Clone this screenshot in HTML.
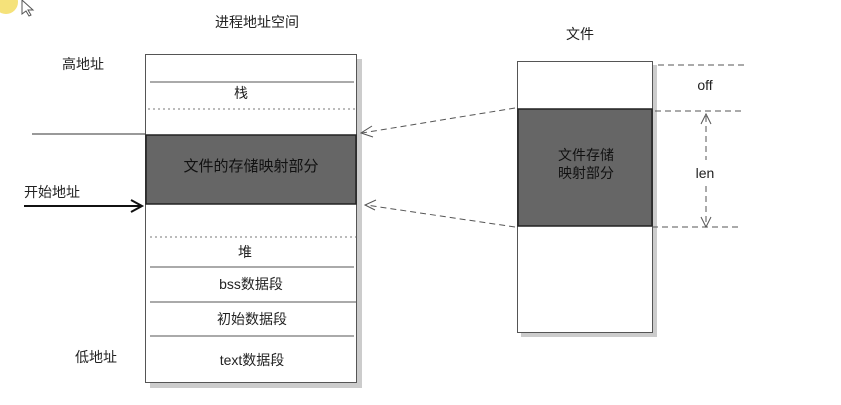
<!DOCTYPE html>
<html><head><meta charset="utf-8"><style>
body{margin:0;background:#fff;}
svg text{font-family:"Liberation Sans","Noto Sans CJK SC",sans-serif;font-size:14px;fill:#222;}
</style></head><body>
<svg width="841" height="400" xmlns="http://www.w3.org/2000/svg">
<circle cx="6" cy="2" r="12" fill="#f5e27a"/>
<path d="M22 0 L22 14 L26 11 L29 16 L31 15 L28 10 L33 10 Z" fill="#fff" stroke="#555" stroke-width="1"/>
<text x="257" y="27" text-anchor="middle">进程地址空间</text>
<text x="580" y="39" text-anchor="middle">文件</text>
<rect x="150" y="59" width="212" height="329" fill="#ccc"/>
<rect x="145.5" y="54.5" width="211" height="328" fill="#fff" stroke="#555"/>
<line x1="150" y1="82" x2="354" y2="82" stroke="#555"/>
<line x1="148" y1="109" x2="356" y2="109" stroke="#777" stroke-dasharray="2,3"/>
<rect x="146" y="135" width="210" height="69" fill="#666" stroke="#222" stroke-width="1.5"/>
<line x1="150" y1="237" x2="356" y2="237" stroke="#777" stroke-dasharray="2,3"/>
<line x1="150" y1="267" x2="354" y2="267" stroke="#555"/>
<line x1="150" y1="302" x2="356" y2="302" stroke="#555"/>
<line x1="150" y1="336" x2="354" y2="336" stroke="#555"/>
<text x="241" y="98" text-anchor="middle">栈</text>
<text x="251" y="171" text-anchor="middle" style="font-size:15px;fill:#111">文件的存储映射部分</text>
<text x="245" y="257" text-anchor="middle">堆</text>
<text x="251" y="289" text-anchor="middle">bss数据段</text>
<text x="252" y="324" text-anchor="middle">初始数据段</text>
<text x="252" y="365" text-anchor="middle">text数据段</text>
<text x="83" y="69" text-anchor="middle">高地址</text>
<text x="52" y="197" text-anchor="middle">开始地址</text>
<text x="96" y="362" text-anchor="middle">低地址</text>
<line x1="32" y1="134" x2="145" y2="134" stroke="#333"/>
<line x1="24" y1="206" x2="141" y2="206" stroke="#111" stroke-width="2"/>
<path d="M131 200 L142 206 L131 212" fill="none" stroke="#111" stroke-width="2"/>
<rect x="521" y="65" width="136" height="272" fill="#ccc"/>
<rect x="517.5" y="61.5" width="135" height="271" fill="#fff" stroke="#555"/>
<rect x="518" y="109" width="134" height="117" fill="#666" stroke="#222" stroke-width="1.5"/>
<text x="586" y="160" text-anchor="middle" style="fill:#111">文件存储</text>
<text x="586" y="178" text-anchor="middle" style="fill:#111">映射部分</text>
<g stroke="#555" stroke-dasharray="6,4" fill="none">
<line x1="658" y1="65" x2="746" y2="65"/>
<line x1="655" y1="111" x2="744" y2="111"/>
<line x1="652" y1="227" x2="740" y2="227"/>
<line x1="706" y1="116" x2="706" y2="224"/>
<line x1="515" y1="108" x2="362" y2="133"/>
<line x1="515" y1="227" x2="366" y2="205"/>
</g>
<g stroke="#555" fill="none">
<path d="M701 124 L706 114 L711 124"/>
<path d="M701 217 L706 227 L711 217"/>
<path d="M372 126 L361 133 L373 137"/>
<path d="M376 200 L365 205 L375 210"/>
</g>
<rect x="690" y="160" width="30" height="22" fill="#fff"/>
<text x="705" y="90" text-anchor="middle">off</text>
<text x="705" y="178" text-anchor="middle">len</text>
</svg>
</body></html>
